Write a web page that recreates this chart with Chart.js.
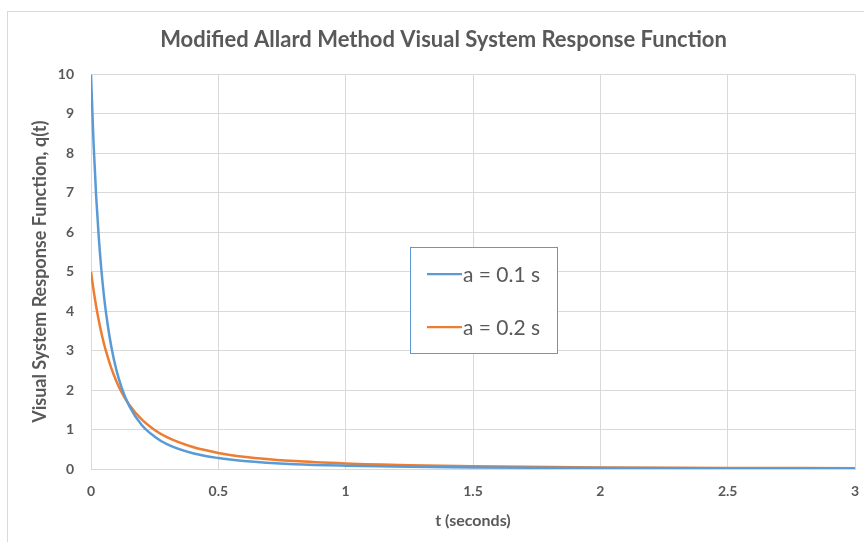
<!DOCTYPE html>
<html>
<head>
<meta charset="utf-8">
<script src="https://cdn.jsdelivr.net/npm/chart.js@4"></script>
<style>
html,body{margin:0;padding:0;background:#fff;}
#wrap{position:relative;width:864px;height:542px;overflow:hidden;}
#frame{position:absolute;left:7px;top:11px;width:900px;height:600px;border:1px solid #d9d9d9;box-sizing:border-box;}
canvas{position:absolute;left:0;top:0;}
</style>
</head>
<body>
<div id="wrap"><div id="frame"></div><canvas id="c" width="864" height="542"></canvas></div>
<script>
const chartTitle = "Modified Allard Method Visual System Response Function";
const xTitle = "t (seconds)";
const yTitle = "Visual System Response Function, q(t)";
const seriesNames = ["a = 0.1 s", "a = 0.2 s"];
const tValues = [0, 0.01, 0.02, 0.03, 0.04, 0.05, 0.06, 0.08, 0.1, 0.12, 0.15, 0.2, 0.25, 0.3, 0.4, 0.5, 0.6, 0.8, 1.0, 1.25, 1.5, 2.0, 2.5, 3.0];
const qA01 = [10, 8.26, 6.94, 5.92, 5.10, 4.44, 3.91, 3.09, 2.50, 2.07, 1.60, 1.11, 0.82, 0.625, 0.40, 0.278, 0.204, 0.123, 0.083, 0.055, 0.039, 0.023, 0.015, 0.010];
const qA02 = [5, 4.54, 4.13, 3.78, 3.47, 3.20, 2.96, 2.55, 2.22, 1.95, 1.63, 1.25, 0.99, 0.80, 0.556, 0.408, 0.3125, 0.20, 0.139, 0.095, 0.069, 0.041, 0.027, 0.020];
const xTicks = [0, 0.5, 1, 1.5, 2, 2.5, 3];
const yTicks = [0, 1, 2, 3, 4, 5, 6, 7, 8, 9, 10];

const FONT = "Lato, 'Open Sans', sans-serif";
const GRAY = "#595959";

const toPts = (ys) => tValues.map((t, i) => ({x: t, y: ys[i]}));

const legendBox = {
  id: 'legendBox',
  afterDatasetsDraw(chart) {
    const ctx = chart.ctx;
    const x0 = 410.5, y0 = 247.5, w = 147, h = 106;
    ctx.save();
    ctx.fillStyle = '#fff';
    ctx.fillRect(x0, y0, w, h);
    ctx.strokeStyle = '#5b9bd5';
    ctx.lineWidth = 1;
    ctx.strokeRect(x0, y0, w, h);
    const rows = [274, 327];
    chart.data.datasets.forEach((ds, i) => {
      const y = rows[i];
      ctx.strokeStyle = ds.borderColor;
      ctx.lineWidth = 2.25;
      ctx.beginPath();
      ctx.moveTo(427, y);
      ctx.lineTo(462, y);
      ctx.stroke();
      ctx.fillStyle = GRAY;
      ctx.font = "21px " + FONT;
      ctx.textBaseline = 'middle';
      ctx.textAlign = 'left';
      ctx.fillText(ds.label, 463, y + 1);
    });
    ctx.restore();
  }
};

new Chart(document.getElementById('c'), {
  type: 'scatter',
  data: {
    datasets: [
      {label: seriesNames[0], data: toPts(qA01), showLine: true, borderColor: '#5b9bd5', backgroundColor: '#5b9bd5', borderWidth: 2.5, pointRadius: 0, cubicInterpolationMode: 'monotone'},
      {label: seriesNames[1], data: toPts(qA02), showLine: true, borderColor: '#ed7d31', backgroundColor: '#ed7d31', borderWidth: 2.5, pointRadius: 0, cubicInterpolationMode: 'monotone'}
    ]
  },
  options: {
    responsive: false,
    animation: false,
    layout: {padding: {left: 23, right: 0, top: 0, bottom: 0}},
    plugins: {
      legend: {display: false},
      tooltip: {enabled: false},
      title: {display: true, text: chartTitle, color: GRAY, font: {family: FONT, size: 22, weight: 'bold'}, padding: {top: 27, bottom: 21}}
    },
    scales: {
      x: {
        type: 'linear', min: 0, max: 3,
        afterBuildTicks: (s) => { s.ticks = xTicks.map(v => ({value: v})); },
        afterFit: (s) => { s.height = 73; s.paddingRight = 9; s.paddingLeft = 0; },
        grid: {color: '#d9d9d9', drawTicks: false},
        border: {color: '#d9d9d9'},
        ticks: {color: GRAY, padding: 14, font: {family: FONT, size: 14, weight: 'bold'}, maxRotation: 0, callback: (v) => String(v)},
        title: {display: true, text: xTitle, color: GRAY, font: {family: FONT, size: 16, weight: 'bold'}, padding: {top: 0, bottom: 12}}
      },
      y: {
        type: 'linear', min: 0, max: 10,
        afterBuildTicks: (s) => { s.ticks = yTicks.map(v => ({value: v})); },
        afterFit: (s) => { s.width = 68; },
        grid: {color: '#d9d9d9', drawTicks: false},
        border: {color: '#d9d9d9'},
        ticks: {color: GRAY, padding: 17, font: {family: FONT, size: 14, weight: 'bold'}, callback: (v) => String(v)},
        title: {display: true, text: yTitle, color: GRAY, font: {family: FONT, size: 18, weight: 'bold'}, padding: {top: 6, bottom: 0}}
      }
    }
  },
  plugins: [legendBox]
});
</script>
</body>
</html>
